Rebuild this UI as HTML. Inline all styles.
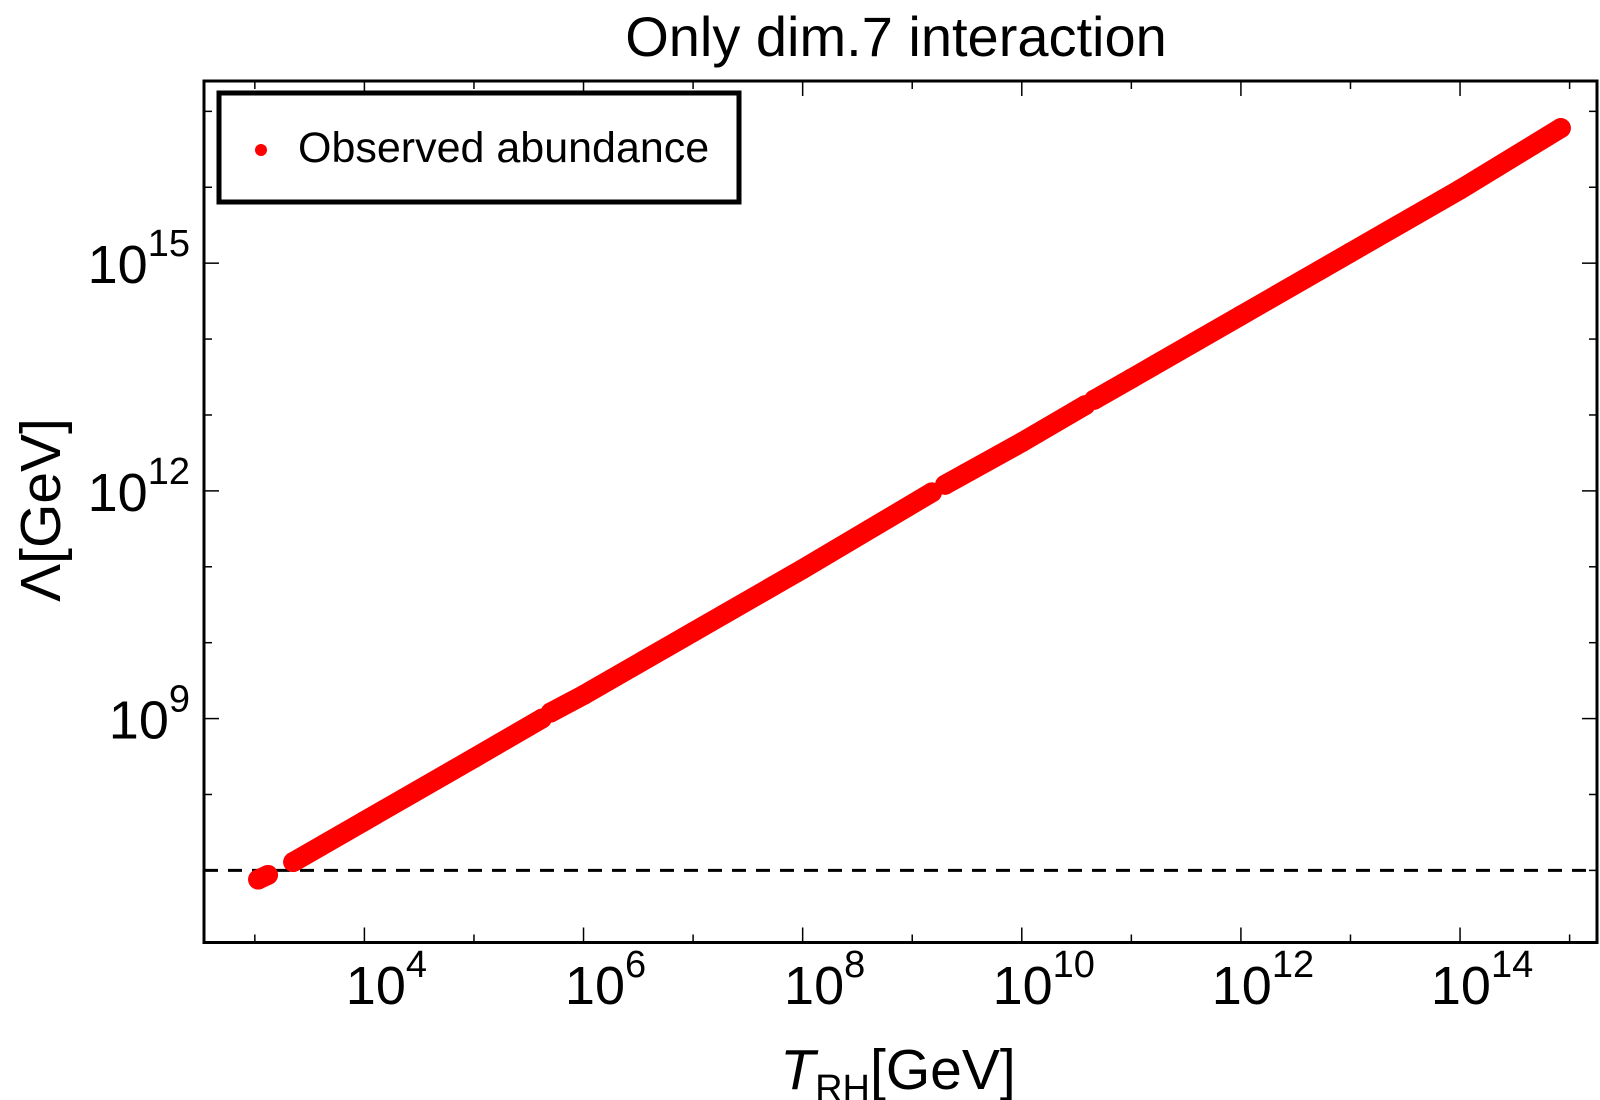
<!DOCTYPE html>
<html><head><meta charset="utf-8"><style>
html,body{margin:0;padding:0;background:#fff;}
svg{display:block;font-family:"Liberation Sans",sans-serif;}
</style></head><body>
<svg id="chart" width="1600" height="1100" viewBox="0 0 1600 1100">
<text x="896" y="56" font-size="56" text-anchor="middle">Only dim.7 interaction</text>
<g id="plot"></g>
<text x="898" y="1089" font-size="57" text-anchor="middle"><tspan font-style="italic">T</tspan><tspan font-size="38" dy="12">RH</tspan><tspan dy="-12">[GeV]</tspan></text>
<text transform="translate(60,510) rotate(-90)" font-size="57" text-anchor="middle">Λ[GeV]</text>
<g>
<rect x="219" y="93" width="520" height="109" fill="#fff" stroke="#000" stroke-width="5"/>
<circle cx="261" cy="150" r="6" fill="#f00"/>
<text x="298" y="162" font-size="43">Observed abundance</text>
</g>
</svg>
<script>
const logT   = [3.03,3.12, 3.35,4.0,5.0,5.62, 5.70,6.0,7.0,8.0,9.18, 9.30,10.0,10.58, 10.66,11.0,12.0,13.0,14.0,14.92];
const logLam = [6.88,6.94, 7.11,7.65,8.48,9.0, 9.08,9.31,10.14,10.97,11.98, 12.08,12.64,13.13, 13.2,13.48,14.31,15.14,15.97,16.78];
const segment= [0,0, 1,1,1,1, 2,2,2,2,2, 3,3,3, 4,4,4,4,4,4];
const xTicks = [3,4,5,6,7,8,9,10,11,12,13,14,15];
const xLabels = [4,6,8,10,12,14];
const yTicks = [7,8,9,10,11,12,13,14,15,16,17];
const yLabels = [9,12,15];
const hLine = [7];

const L=204,R=1597,T=81,B=942.5;
const xMin=2.536,xMax=15.25,yMin=6.05,yMax=17.40;
const sx=v=>L+(v-xMin)/(xMax-xMin)*(R-L);
const sy=v=>B-(v-yMin)/(yMax-yMin)*(B-T);
const NS="http://www.w3.org/2000/svg";
const g=document.getElementById('plot');
function mk(t,a){const e=document.createElementNS(NS,t);for(const k in a)e.setAttribute(k,a[k]);g.appendChild(e);return e;}

hLine.forEach(v=>{
  const e=mk('line',{x1:L,x2:R,y1:sy(v),y2:sy(v),stroke:'#000','stroke-width':3,'stroke-dasharray':'14,10'});
  
  
});

const segIds=[...new Set(segment)];
segIds.forEach(s=>{
  const pts=[];
  logT.forEach((t,i)=>{if(segment[i]===s)pts.push(sx(t)+','+sy(logLam[i]));});
  const p=mk('polyline',{points:pts.join(' '),fill:'none',stroke:'#f00','stroke-width':20,'stroke-linecap':'round','stroke-linejoin':'round'});
  
  
});
logT.forEach((t,i)=>{
  const c=mk('circle',{cx:sx(t),cy:sy(logLam[i]),r:10,fill:'#f00'});
  
  
});

xTicks.forEach(v=>{
  const x=sx(v);const len=xLabels.includes(v)?15:8;
  const a=mk('line',{x1:x,x2:x,y1:B,y2:B-len,stroke:'#000','stroke-width':1.5});
  
  
  const b=mk('line',{x1:x,x2:x,y1:T,y2:T+len,stroke:'#000','stroke-width':1.5});
  
  
});
yTicks.forEach(v=>{
  const y=sy(v);const len=yLabels.includes(v)?15:8;
  const a=mk('line',{x1:L,x2:L+len,y1:y,y2:y,stroke:'#000','stroke-width':1.5});
  
  
  const b=mk('line',{x1:R,x2:R-len,y1:y,y2:y,stroke:'#000','stroke-width':1.5});
  
  
});
xLabels.forEach(v=>{
  const t=mk('text',{x:sx(v)+22,y:1004,'font-size':54,'text-anchor':'middle'});
  
  
  t.innerHTML='10<tspan font-size="38" dy="-27">'+v+'</tspan>';
});
yLabels.forEach(v=>{
  const t=mk('text',{x:190,y:sy(v)+20,'font-size':54,'text-anchor':'end'});
  
  
  t.innerHTML='10<tspan font-size="38" dy="-27">'+v+'</tspan>';
});
const fr=mk('rect',{x:L,y:T,width:R-L,height:B-T,fill:'none',stroke:'#000','stroke-width':3});


</script>
</body></html>
